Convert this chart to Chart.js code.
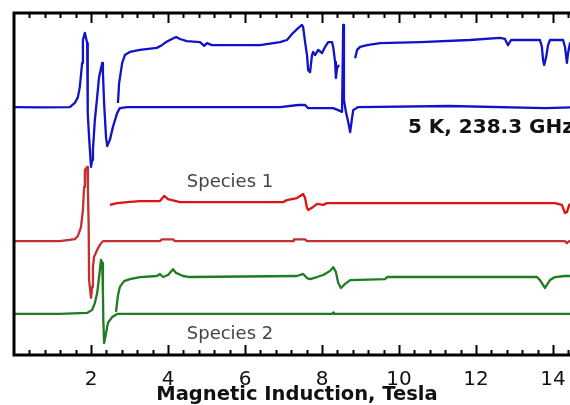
<!DOCTYPE html>
<html>
<head>
<meta charset="utf-8">
<title>HFEPR 5 K, 238.3 GHz</title>
<script src="https://cdn.jsdelivr.net/npm/chart.js@4.4.1/dist/chart.umd.min.js"></script>
<style>
  html, body { margin: 0; padding: 0; overflow: hidden; background: #fff; }
  #wrap { width: 600px; height: 405px; }
</style>
</head>
<body>
<div id="wrap"><canvas id="spektr" width="600" height="405"></canvas></div>
<script>
// --- field axis (Tesla) ---
const fieldMin = 0;
const fieldMax = 14.7;
const tickVals = [2, 4, 6, 8, 10, 12, 14];

// --- experimental spectrum (blue), two sweeps ---
const blueLowX = [0, 0.68, 1.45, 1.58, 1.66, 1.71, 1.77, 1.79, 1.84, 1.90, 1.91, 1.92, 1.95, 2.00, 2.03, 2.05, 2.10, 2.16, 2.21, 2.29, 2.31, 2.34, 2.39, 2.42, 2.49, 2.57, 2.68, 2.75, 2.94, 4.83, 6.91, 7.38, 7.56, 7.64, 8.29, 8.42, 8.52, 8.55, 8.57, 8.62, 8.68, 8.73, 8.78, 8.81, 8.94, 11.32, 13.79, 14.70];
const blueLowY = [72.5, 72.4, 72.5, 73.7, 75.4, 78.4, 85.4, 92.1, 94.2, 91.2, 83.3, 70.8, 63.7, 55.0, 57.0, 59.9, 68.7, 75.4, 81.3, 85.4, 82.5, 73.7, 63.7, 61.1, 62.9, 66.7, 70.8, 72.2, 72.5, 72.5, 72.5, 73.1, 73.1, 72.2, 72.2, 71.6, 71.1, 96.5, 74.6, 71.1, 68.1, 65.2, 69.3, 71.6, 72.5, 72.8, 72.2, 72.5];

const blueHighX = [2.70, 2.73, 2.81, 2.88, 3.01, 3.27, 3.71, 3.84, 3.95, 4.05, 4.21, 4.31, 4.49, 4.83, 4.94, 5.01, 5.14, 5.35, 6.39, 6.91, 7.09, 7.25, 7.38, 7.48, 7.51, 7.56, 7.61, 7.64, 7.69, 7.74, 7.77, 7.82, 7.90, 8.00, 8.08, 8.16, 8.26, 8.29, 8.34, 8.36, 8.39, 8.44,
  8.60,
  8.86, 8.91, 8.99, 9.17, 9.51, 10.55, 11.84, 12.62, 12.75, 12.83, 12.91, 13.40, 13.66, 13.71, 13.74, 13.77, 13.82, 13.87, 13.92, 14.26, 14.31, 14.36, 14.39, 14.44, 14.55, 14.70];
const blueHighY = [73.7, 79.5, 85.4, 87.7, 88.6, 89.2, 89.8, 90.6, 91.5, 92.1, 93.0, 92.4, 91.8, 91.5, 90.4, 91.2, 90.6, 90.6, 90.6, 91.5, 92.1, 94.2, 95.6, 96.5, 95.9, 91.5, 87.7, 83.3, 82.7, 87.7, 88.6, 87.7, 89.2, 88.3, 90.1, 91.5, 91.5, 90.1, 85.7, 81.0, 83.9, 84.8,
  null,
  86.8, 89.2, 90.1, 90.6, 91.2, 91.5, 92.1, 92.7, 92.4, 90.6, 92.1, 92.1, 92.1, 90.1, 86.3, 84.8, 87.1, 90.6, 92.1, 92.1, 90.1, 85.4, 88.3, 91.2, 92.1, 92.1];

// --- simulation, species 1 (red) ---
const redLowX = [0, 1.19, 1.58, 1.66, 1.74, 1.79, 1.82, 1.84, 1.90, 1.92, 1.94, 1.95, 2.00, 2.03, 2.05, 2.08, 2.16, 2.23, 2.31, 3.79, 3.84, 4.13, 4.18, 7.25, 7.27, 7.56, 7.61, 14.31, 14.36, 14.42, 14.70];
const redLowY = [33.3, 33.3, 33.9, 34.8, 37.4, 42.4, 49.1, 54.1, 55.0, 48.2, 37.4, 21.9, 16.7, 19.9, 25.7, 28.7, 30.7, 32.2, 33.3, 33.3, 33.8, 33.8, 33.3, 33.3, 33.8, 33.8, 33.3, 33.3, 32.7, 33.3, 33.3];

const redHighX = [2.49, 2.68, 2.94, 3.27, 3.79, 3.90, 4.00, 4.31, 6.99, 7.09, 7.35, 7.51, 7.56, 7.61, 7.64, 7.77, 7.87, 8.03, 8.13, 8.73, 14.05, 14.23, 14.31, 14.36, 14.42, 14.49, 14.70];
const redHighY = [43.9, 44.4, 44.7, 45.0, 45.0, 46.5, 45.6, 44.7, 44.7, 45.3, 45.9, 47.1, 45.9, 43.0, 42.4, 43.3, 44.2, 43.9, 44.4, 44.4, 44.4, 43.9, 41.5, 41.8, 43.9, 44.4, 44.4];

// --- simulation, species 2 (green) ---
const greenLowX = [0, 1.19, 1.90, 2.03, 2.10, 2.16, 2.21, 2.26, 2.29, 2.31, 2.32, 2.34, 2.39, 2.44, 2.55, 2.68, 8.26, 8.29, 8.31, 14.70];
const greenLowY = [12.0, 12.0, 12.3, 13.2, 15.2, 18.1, 22.8, 27.8, 26.9, 18.1, 10.2, 3.5, 6.4, 9.4, 11.1, 12.0, 12.0, 12.4, 12.0, 12.0];

const greenHighX = [2.65, 2.70, 2.75, 2.86, 3.01, 3.27, 3.71, 3.79, 3.87, 4.00, 4.13, 4.21, 4.39, 4.57, 7.35, 7.51, 7.61, 7.69, 7.87, 8.03, 8.21, 8.29, 8.36, 8.42, 8.49, 8.60, 8.73, 9.64, 9.69, 13.58, 13.66, 13.79, 13.92, 14.05, 14.31, 14.70];
const greenHighY = [12.6, 17.5, 19.9, 21.6, 22.2, 22.8, 23.1, 23.7, 22.8, 23.4, 25.1, 24.0, 23.1, 22.8, 23.1, 23.7, 22.5, 22.2, 22.8, 23.4, 24.6, 25.7, 24.3, 21.1, 19.6, 20.8, 21.9, 22.2, 22.8, 22.8, 21.9, 19.6, 21.9, 22.8, 23.1, 23.1];

// --- text labels ---
const notes = [
  { text: 'Species 1', x: 5.61, y: 50.6, font: '18px "DejaVu Sans"', color: '#444', align: 'center' },
  { text: 'Species 2', x: 5.61, y: 6.1, font: '18px "DejaVu Sans"', color: '#444', align: 'center' },
  { text: '5 K, 238.3 GHz', x: 10.23, y: 66.4, font: 'bold 20px "DejaVu Sans"', color: '#111', align: 'left' }
];

function pts(xs, ys) {
  return xs.map((x, i) => ({ x: x, y: ys[i] }));
}

function line(xs, ys, color) {
  return {
    data: pts(xs, ys),
    borderColor: color,
    borderWidth: 2.3,
    pointRadius: 0,
    tension: 0,
    borderJoinStyle: 'round',
    spanGaps: false
  };
}

// çerçeve, içe dönük tikler ve yazılar
const frameTicks = {
  id: 'frameTicks',
  afterDraw(chart) {
    const { ctx, chartArea: a, scales } = chart;
    const x = scales.x, y = scales.y;
    ctx.save();
    ctx.strokeStyle = '#000';
    ctx.lineWidth = 2;
    const n = Math.floor(x.max / 0.4 + 1e-6);
    for (let i = 1; i <= n; i++) {
      const px = Math.round(x.getPixelForValue(i * 0.4)) + 0.5;
      const len = i % 5 === 0 ? 10 : 5;
      ctx.beginPath();
      ctx.moveTo(px, a.bottom);
      ctx.lineTo(px, a.bottom - len);
      ctx.moveTo(px, a.top);
      ctx.lineTo(px, a.top + len);
      ctx.stroke();
    }
    ctx.lineWidth = 3;
    ctx.strokeRect(a.left, a.top, a.right - a.left, a.bottom - a.top);

    notes.forEach(n => {
      ctx.font = n.font;
      ctx.fillStyle = n.color;
      ctx.textAlign = n.align;
      ctx.textBaseline = 'middle';
      ctx.fillText(n.text, x.getPixelForValue(n.x), y.getPixelForValue(n.y));
    });
    ctx.restore();
  }
};

const ctx = document.getElementById('spektr').getContext('2d');
new Chart(ctx, {
  type: 'line',
  data: {
    datasets: [
      line(blueLowX, blueLowY, '#1212c8'),
      line(blueHighX, blueHighY, '#1212c8'),
      line(redLowX, redLowY, '#c43030'),
      line(redHighX, redHighY, '#dc1414'),
      line(greenLowX, greenLowY, '#237a23'),
      line(greenHighX, greenHighY, '#1e7d1e')
    ]
  },
  options: {
    responsive: false,
    animation: false,
    devicePixelRatio: 1,
    layout: { padding: { left: 14, top: 13, right: 20, bottom: 0 } },
    plugins: { legend: { display: false }, tooltip: { enabled: false } },
    scales: {
      x: {
        type: 'linear',
        min: fieldMin,
        max: fieldMax,
        grid: { display: false },
        border: { display: false },
        afterBuildTicks: s => { s.ticks = tickVals.map(v => ({ value: v })); },
        afterFit: s => { s.height = 50; },
        ticks: {
          padding: 5,
          color: '#111',
          font: { family: 'DejaVu Sans', size: 20 },
          maxRotation: 0
        },
        title: {
          display: true,
          text: 'Magnetic Induction, Tesla',
          color: '#111',
          font: { family: 'DejaVu Sans', size: 19.5, weight: 'bold', lineHeight: 1 },
          padding: 0
        }
      },
      y: {
        min: 0,
        max: 100,
        display: false
      }
    }
  },
  plugins: [frameTicks]
});
</script>
</body>
</html>
